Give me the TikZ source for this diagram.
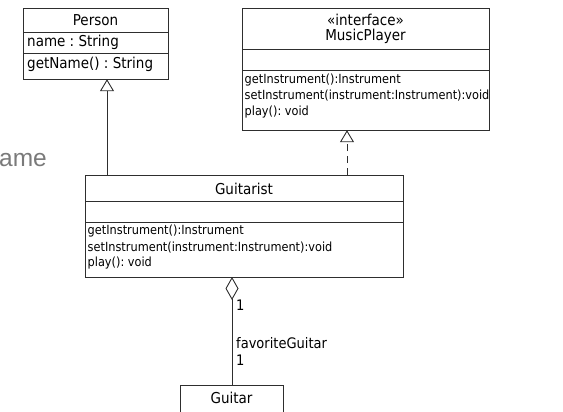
\documentclass[tikz,border=0pt]{standalone}
\usepackage{fontspec}
\setmainfont{DejaVu Sans Condensed}
\newfontfamily\labelfont{Liberation Sans}
\usetikzlibrary{arrows.meta}
\frenchspacing
\definecolor{umlline}{HTML}{2E2E2E}
\definecolor{captiongray}{HTML}{7A7A7A}
\tikzset{
  umlbox/.style={draw=umlline, line width=0.9pt, fill=white},
  sepline/.style={draw=umlline, line width=0.9pt},
  headtxt/.style={inner sep=0pt, font=\fontsize{15}{17}\selectfont, text=black},
  bigtxt/.style={inner sep=0pt, anchor=west, font=\fontsize{15}{17}\selectfont, text=black},
  optxt/.style={inner sep=0pt, anchor=west, font=\fontsize{12.6}{14}\selectfont, text=black},
  reltxt/.style={inner sep=0pt, anchor=west, font=\fontsize{14.5}{16}\selectfont, text=black},
  connector/.style={draw=umlline, line width=0.9pt},
  inherits/.style={connector, -{Triangle[open, length=12pt, width=14pt]}},
  realizes/.style={connector, dash pattern=on 7pt off 5pt, -{Triangle[open, length=12pt, width=14pt]}},
  aggregation/.style={connector, {Diamond[open, length=23pt, width=13pt]}-},
}
\begin{document}
\begin{tikzpicture}[x=1pt, y=-1pt]
\useasboundingbox (0,0) rectangle (563,412);

% partly hidden caption at the left edge
\node[anchor=west, inner sep=0pt, text=captiongray, font=\labelfont\fontsize{24.5}{26}\selectfont] (caption) at (-1,160) {ame};

% class Person
\path[umlbox] (23,8) rectangle (168,79);
\node[inner sep=0pt] (person) at (95.5,43.5) [minimum width=145pt, minimum height=71pt] {};
\draw[sepline] (23,32) -- (168,32);
\draw[sepline] (23,53) -- (168,53);
\node[headtxt] (personname) at (95.5,20) {Person};
\node[bigtxt] (personattr) at (27,42.5) {name : String};
\node[bigtxt] (personop) at (27,64.5) {getName() : String};

% interface MusicPlayer
\path[umlbox] (242,8) rectangle (489,130);
\node[inner sep=0pt] (player) at (365.5,69) [minimum width=247pt, minimum height=122pt] {};
\draw[sepline] (242,49) -- (489,49);
\draw[sepline] (242,70) -- (489,70);
\node[headtxt] (stereo) at (365.5,20) {«interface»};
\node[headtxt] (playername) at (365.5,36) {MusicPlayer};
\node[optxt] (pop1) at (244.5,80.5) {getInstrument():Instrument};
\node[optxt] (pop2) at (244.5,96) {setInstrument(instrument:Instrument):void};
\node[optxt] (pop3) at (244.5,112) {play(): void};

% class Guitarist
\path[umlbox] (85,175) rectangle (403,277);
\node[inner sep=0pt] (guitarist) at (244,226) [minimum width=318pt, minimum height=102pt] {};
\draw[sepline] (85,201) -- (403,201);
\draw[sepline] (85,222) -- (403,222);
\node[headtxt] (guitaristname) at (244,188.5) {Guitarist};
\node[optxt] (gop1) at (87.5,231.5) {getInstrument():Instrument};
\node[optxt] (gop2) at (87.5,247.5) {setInstrument(instrument:Instrument):void};
\node[optxt] (gop3) at (87.5,263.5) {play(): void};

% class Guitar (runs past the lower edge)
\path[umlbox] (180,385) rectangle (283,420);
\node[inner sep=0pt] (guitar) at (231.5,402.5) [minimum width=103pt, minimum height=35pt] {};
\node[headtxt] (guitarname) at (231.5,398) {Guitar};

% relations
\coordinate (gen) at (107,175);
\coordinate (real) at (347,175);
\coordinate (agg) at (232,277);
\draw[inherits] (gen) -- (gen |- person.south);
\draw[realizes] (real) -- (real |- player.south);
\draw[aggregation] (agg) -- (agg |- guitar.north);

% association labels
\node[reltxt] (mult1) at (236,305) {1};
\node[reltxt] (role) at (236,343.5) {favoriteGuitar};
\node[reltxt] (mult2) at (236,360) {1};
\end{tikzpicture}
\end{document}
